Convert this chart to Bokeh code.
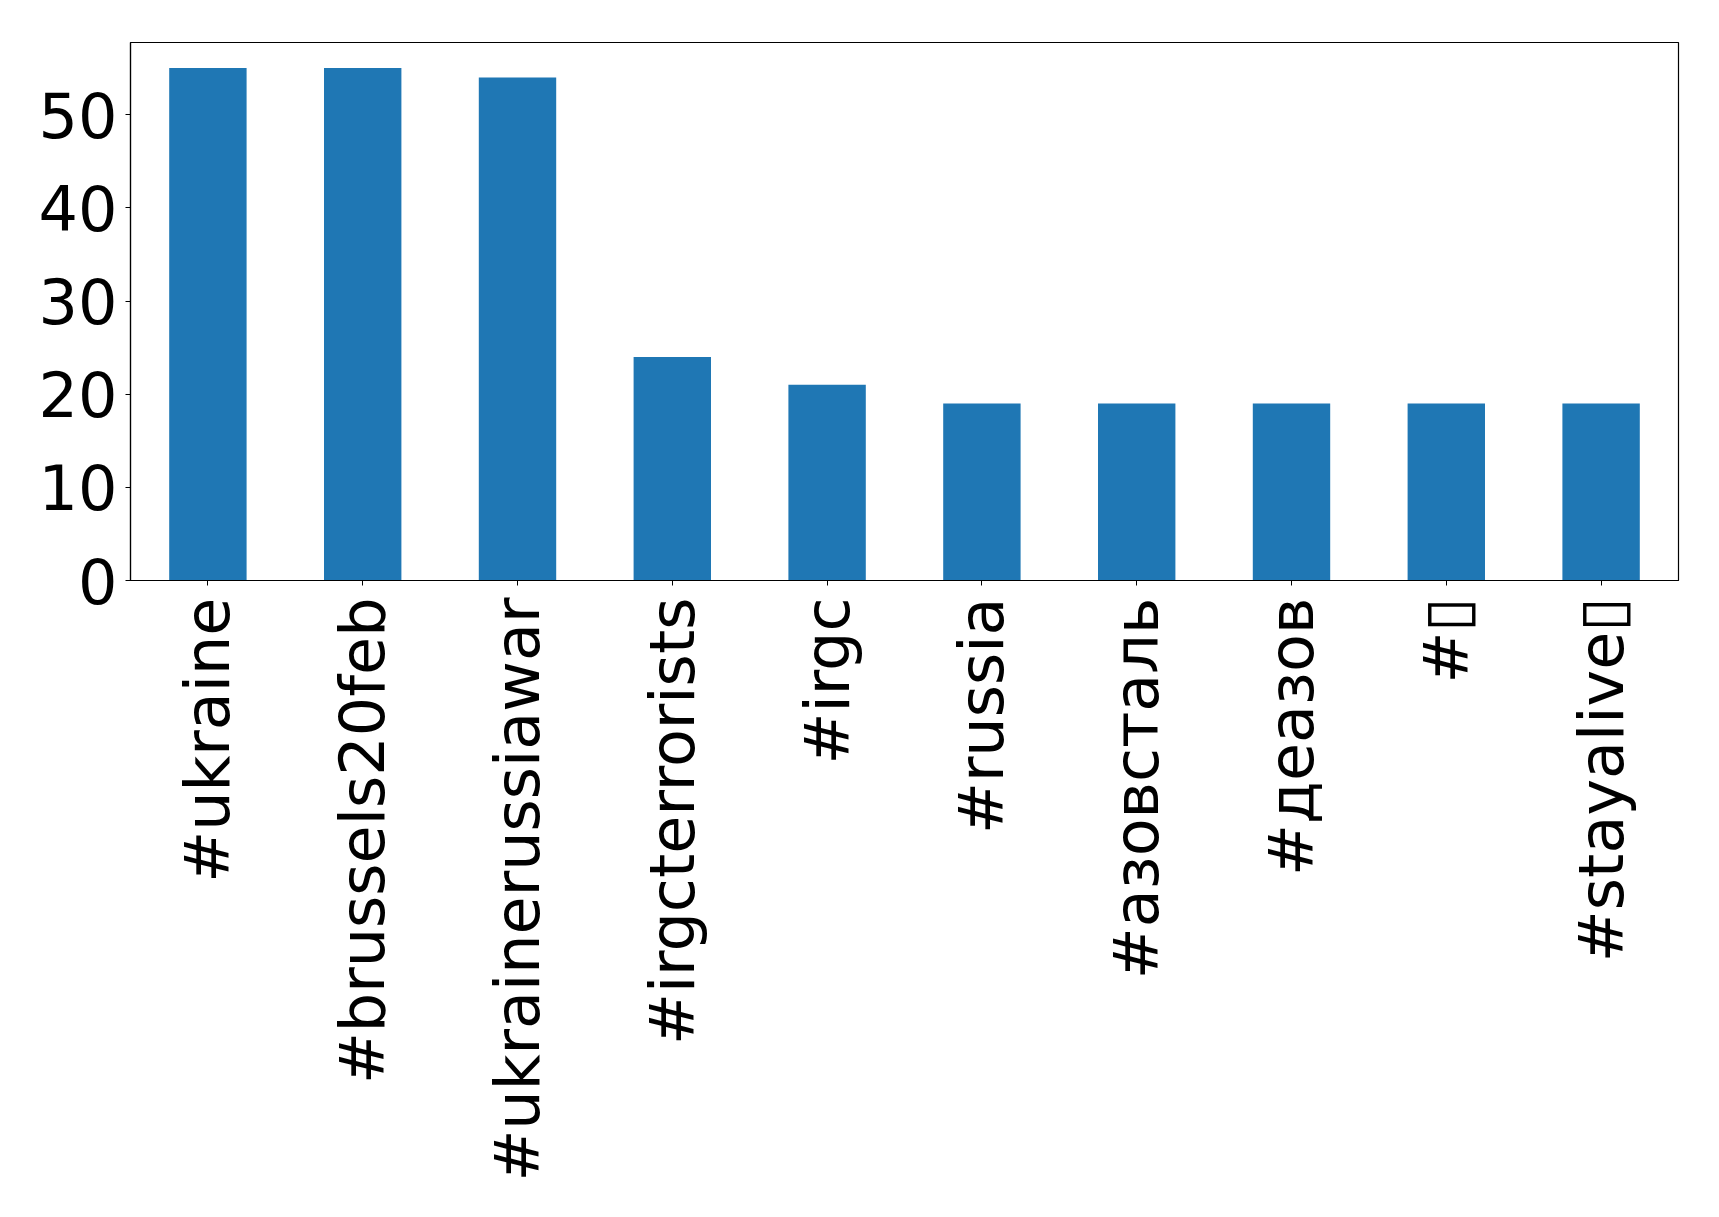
import math
from bokeh.plotting import figure
from bokeh.models import Range1d, FactorRange
from bokeh.embed import file_html
from bokeh.resources import INLINE

hashtags = ["#ukraine", "#brussels20feb", "#ukrainerussiawar", "#irgcterrorists",
            "#irgc", "#russia", "#азовсталь", "#деазов", "#\u25af", "#stayalive\u25af"]
counts = [55, 55, 54, 24, 21, 19, 19, 19, 19, 19]
y_ticks = [0, 10, 20, 30, 40, 50]

p = figure(x_range=FactorRange(factors=hashtags, range_padding=0),
           y_range=Range1d(0, 57.75),
           width=1703, height=1201,
           output_backend="svg", toolbar_location=None,
           min_border_left=130, min_border_right=25,
           min_border_top=42, min_border_bottom=621)

p.vbar(x=hashtags, top=counts, width=0.5, color="#1f77b4", line_color=None)

p.xgrid.visible = False
p.ygrid.visible = False
p.outline_line_color = "black"
p.outline_line_width = 1.2
p.background_fill_color = "white"
p.border_fill_color = "white"

for ax in (p.xaxis, p.yaxis):
    ax.axis_line_color = "black"
    ax.axis_line_width = 1.2
    ax.major_tick_line_color = "black"
    ax.major_tick_out = 5
    ax.major_tick_in = 0
    ax.minor_tick_line_color = None
    ax.major_label_text_font = "DejaVu Sans"
    ax.major_label_text_font_size = "62px"
    ax.major_label_text_color = "black"

p.yaxis.ticker = y_ticks
p.yaxis.major_label_standoff = 8
p.xaxis.major_label_orientation = math.pi / 2
p.xaxis.major_label_standoff = 12

open("out.html", "w").write(file_html(p, INLINE))
